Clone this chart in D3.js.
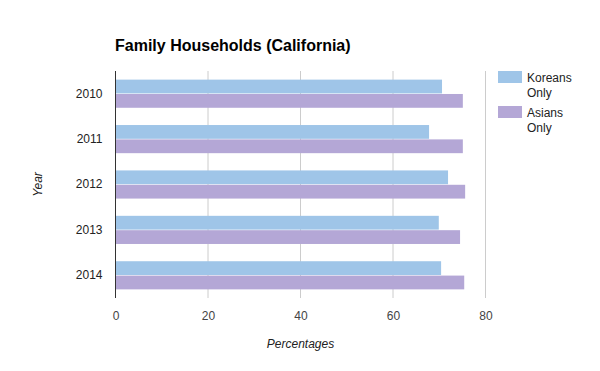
<!DOCTYPE html>
<html>
<head>
<meta charset="utf-8">
<script src="https://cdn.jsdelivr.net/npm/d3@7"></script>
<style>
  body { margin: 0; background: #fff; }
  text { font-family: "Liberation Sans", Arial, sans-serif; }
</style>
</head>
<body>
<div id="chart"></div>
<script>
var years = ["2010", "2011", "2012", "2013", "2014"];
var seriesNames = ["Koreans Only", "Asians Only"];
var koreans = [70.6, 67.8, 71.9, 69.9, 70.4];
var asians = [75.1, 75.1, 75.6, 74.5, 75.4];
var xTicks = [0, 20, 40, 60, 80];
var colors = ["#9fc5e8", "#b4a7d6"];

var width = 600,
    height = 371;
var plot = {left: 115.5, right: 485.5, top: 71, bottom: 298};

var svg = d3.select("#chart").append("svg")
    .attr("width", width)
    .attr("height", height);

var x = d3.scaleLinear()
    .domain([0, 80])
    .range([plot.left, plot.right]);

var y = d3.scaleBand()
    .domain(years)
    .range([plot.top, plot.bottom])
    .paddingInner(0.38)
    .paddingOuter(0.19);

var ySeries = d3.scaleBand()
    .domain([0, 1])
    .range([0, y.bandwidth()])
    .paddingInner(0.04);

// gridlines
svg.append("g")
    .selectAll("line")
    .data(xTicks.slice(1))
    .join("line")
    .attr("x1", function (d) { return x(d); })
    .attr("x2", function (d) { return x(d); })
    .attr("y1", plot.top)
    .attr("y2", plot.bottom)
    .attr("stroke", "#cccccc")
    .attr("stroke-width", 1);

// bars
var table = years.map(function (yr, i) {
  return {year: yr, values: [koreans[i], asians[i]]};
});

svg.append("g")
    .selectAll("g")
    .data(table)
    .join("g")
    .attr("transform", function (d) { return "translate(0," + y(d.year) + ")"; })
    .selectAll("rect")
    .data(function (d) { return d.values; })
    .join("rect")
    .attr("x", x(0))
    .attr("y", function (d, i) { return ySeries(i); })
    .attr("width", function (d) { return x(d) - x(0); })
    .attr("height", ySeries.bandwidth())
    .attr("fill", function (d, i) { return colors[i]; });

// baseline
svg.append("line")
    .attr("x1", x(0))
    .attr("x2", x(0))
    .attr("y1", plot.top)
    .attr("y2", plot.bottom)
    .attr("stroke", "#333333")
    .attr("stroke-width", 1);

// x tick labels
var xAxis = svg.append("g")
    .attr("transform", "translate(0," + plot.bottom + ")")
    .call(d3.axisBottom(x).tickValues(xTicks).tickSize(0).tickPadding(13));
xAxis.select(".domain").remove();
xAxis.selectAll("text")
    .attr("fill", "#444444")
    .style("font-size", "12px");

// y tick labels
var yAxis = svg.append("g")
    .attr("transform", "translate(" + plot.left + ",0)")
    .call(d3.axisLeft(y).tickSize(0).tickPadding(13));
yAxis.select(".domain").remove();
yAxis.selectAll("text")
    .attr("fill", "#222222")
    .style("font-size", "12px");

// title
svg.append("text")
    .attr("x", 115)
    .attr("y", 51)
    .attr("fill", "#000")
    .style("font-size", "16px")
    .style("font-weight", "bold")
    .text("Family Households (California)");

// axis titles
svg.append("text")
    .attr("x", (plot.left + plot.right) / 2)
    .attr("y", 348)
    .attr("text-anchor", "middle")
    .attr("fill", "#222222")
    .style("font-size", "12px")
    .style("font-style", "italic")
    .text("Percentages");

svg.append("text")
    .attr("transform", "translate(41.5," + (plot.top + plot.bottom) / 2 + ") rotate(-90)")
    .attr("text-anchor", "middle")
    .attr("fill", "#222222")
    .style("font-size", "12px")
    .style("font-style", "italic")
    .text("Year");

// legend
var legend = svg.append("g")
    .selectAll("g")
    .data(seriesNames)
    .join("g")
    .attr("transform", function (d, i) { return "translate(498," + (71 + i * 35) + ")"; });

legend.append("rect")
    .attr("width", 24)
    .attr("height", 12)
    .attr("fill", function (d, i) { return colors[i]; });

legend.append("text")
    .attr("x", 29)
    .attr("y", 10.5)
    .attr("fill", "#222222")
    .style("font-size", "12px")
    .selectAll("tspan")
    .data(function (d) { return d.split(" "); })
    .join("tspan")
    .attr("x", 29)
    .attr("dy", function (d, i) { return i === 0 ? 0 : 15; })
    .text(function (d) { return d; });
</script>
</body>
</html>
